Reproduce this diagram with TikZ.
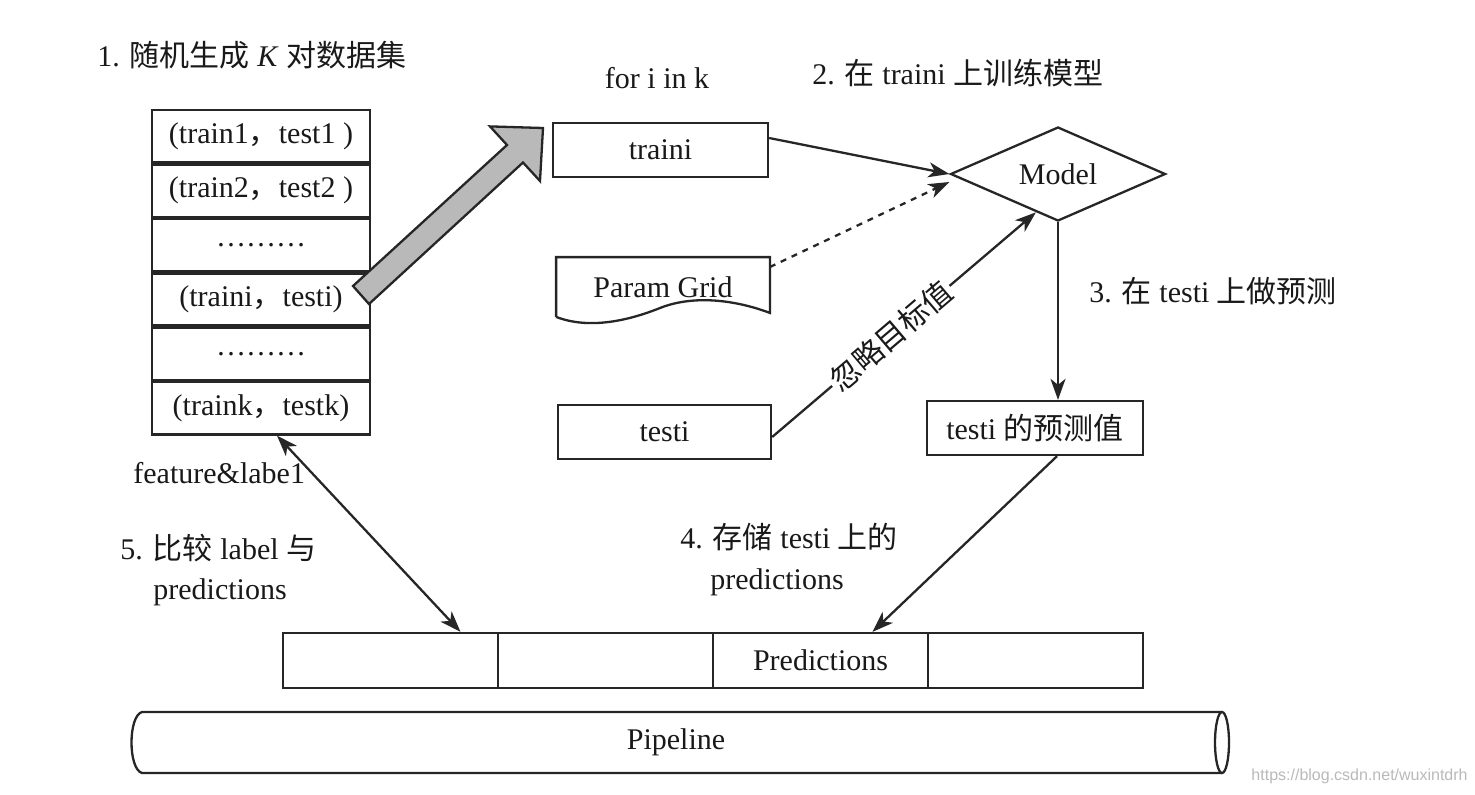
\documentclass[tikz,border=0pt]{standalone}
\usepackage{fontspec}
\setmainfont{Liberation Serif}
\newfontfamily\cjk{Noto Sans CJK SC}
\newfontfamily\wmfont{Liberation Sans}
\usetikzlibrary{arrows.meta,shapes.geometric,calc}
\newcommand\zh[1]{{\cjk #1}}
\begin{document}
\begin{tikzpicture}[x=0.5pt,y=-0.5pt,
  every node/.style={font=\fontsize{15pt}{18pt}\selectfont, text=black!90},
  ln/.style={draw=black!85, line width=1.15pt},
  box/.style={ln, rectangle, inner sep=0pt},
  arr/.style={ln, -{Stealth[length=10.5pt,width=7.5pt,inset=3pt]}},
  darr/.style={ln, {Stealth[length=10.5pt,width=7.5pt,inset=3pt]}-{Stealth[length=10.5pt,width=7.5pt,inset=3pt]}},
  lbl/.style={anchor=west, inner sep=0pt},
  row/.style={box, minimum width=109pt, minimum height=26.08pt},
  cell/.style={box, minimum width=107.5pt, minimum height=27.5pt},
  ]
\useasboundingbox (0,0) rectangle (1475,794);

% titles and labels
\node[lbl] (t1) at (97,55) {1. \zh{随机生成} \textit{K} \zh{对数据集}};
\node (forik) at (657,78) {for i in k};
\node[lbl] (t2) at (812,73) {2. \zh{在} traini \zh{上训练模型}};
\node[lbl] (t3) at (1089,291) {3. \zh{在} testi \zh{上做预测}};
\node[lbl] (t4a) at (680,537) {4. \zh{存储} testi \zh{上的}};
\node[lbl] (t4b) at (710,582) {predictions};
\node[lbl] (fl) at (133,473) {feature\&labe1};
\node[lbl] (t5a) at (120,548) {5. \zh{比较} label \zh{与}};
\node[lbl] (t5b) at (153,592) {predictions};

% stack of pairs
\node[row] (r1) at (261,136.1) {(train1\zh{，}test1 )};
\node[row, anchor=north] (r2) at (r1.south) {(train2\zh{，}test2 )};
\node[row, anchor=north] (r3) at (r2.south) {\dots\dots\dots};
\node[row, anchor=north] (r4) at (r3.south) {(traini\zh{，}testi)};
\node[row, anchor=north] (r5) at (r4.south) {\dots\dots\dots};
\node[row, anchor=north] (r6) at (r5.south) {(traink\zh{，}testk)};

% fat arrow
\filldraw[fill=gray!55, ln] (369,304) -- (523,162.5) -- (540,181) -- (543,128)
  -- (490,126.4) -- (507,145) -- (353,286) -- cycle;

% middle column
\node[box, minimum width=107.5pt, minimum height=27pt] (traini) at (660.5,150) {traini};
\node[inner sep=0pt, minimum width=106.5pt, minimum height=29.5pt] (pg) at (663,287) {Param Grid};
\draw[ln] (pg.south west) -- (pg.north west) -- (pg.north east) -- ([yshift=2pt]pg.south east)
  .. controls (730,298) and (690,296) .. (660,308)
  .. controls (630,320) and (590,330) .. (pg.south west);
\node[box, minimum width=106.5pt, minimum height=27pt] (testi) at (664.5,432) {testi};

% model and predictions
\node[ln, diamond, aspect=2.29, minimum width=107.5pt, minimum height=47pt, inner sep=0pt] (model) at (1058,174) {Model};
\node[box, minimum width=108pt, minimum height=27pt] (pred) at (1035,428) {testi \zh{的预测值}};

% predictions bar
\node[cell] (c1) at (390.5,660.5) {};
\node[cell] (c2) at (605.5,660.5) {};
\node[cell] (c3) at (820.5,660.5) {Predictions};
\node[cell] (c4) at (1035.5,660.5) {};

% pipeline
\node[inner sep=0pt] (pipe) at (676,742) {Pipeline};
\draw[ln] (1222,712) -- (142,712) .. controls (128,716) and (128,769) .. (142,773) -- (1222,773);
\draw[ln] (1222,742.5) ellipse [x radius=3.5pt, y radius=15.25pt];

% connectors
\draw[arr] ([yshift=6pt]traini.east) -- (model.west);
\draw[arr, dashed] ([yshift=10pt]pg.east) -- ([yshift=-4pt]model.west);
\draw[arr] ([yshift=-2.5pt]testi.east) -- node[pos=0.45, sloped, fill=white, inner sep=1pt] (ign) {\zh{忽略目标值}} (model.240);
\draw[arr] (model.south) -- (model.south |- pred.north);
\draw[arr] ([xshift=11pt]pred.south) -- ([xshift=26pt]c3.north);
\draw[darr] ([xshift=8pt]r6.south) -- ([xshift=35pt]c1.north);

% watermark
\node[anchor=east, inner sep=0pt, font=\wmfont\fontsize{8pt}{9pt}\selectfont, text=gray!55] (wm) at (1468,776) {https://blog.csdn.net/wuxintdrh};
\end{tikzpicture}
\end{document}
